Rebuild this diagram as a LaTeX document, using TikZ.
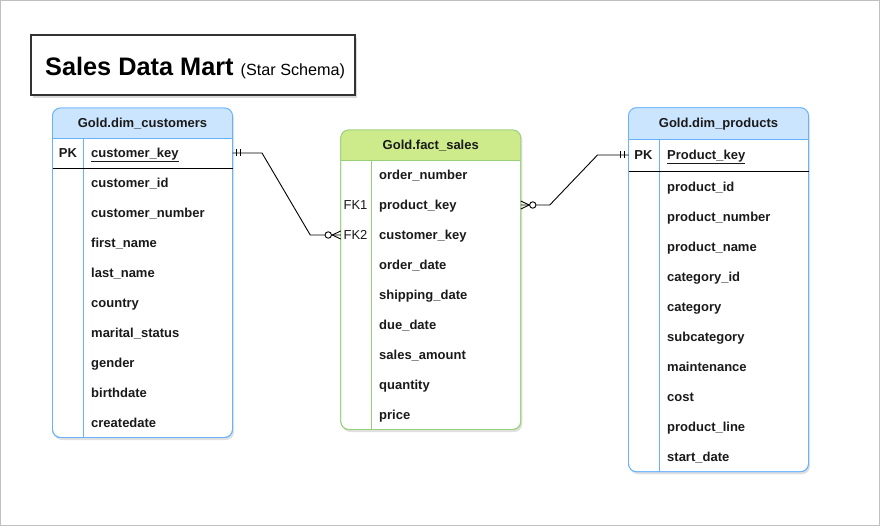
\documentclass[tikz,border=0pt]{standalone}
\usepackage{fontspec}
\setmainfont{Liberation Sans}
\usetikzlibrary{calc,shadows}
\definecolor{bluehdr}{HTML}{CCE5FF}
\definecolor{blueln}{HTML}{66B2FF}
\definecolor{greenhdr}{HTML}{CDEB8B}
\definecolor{greenln}{HTML}{97D077}
\definecolor{txt}{HTML}{1A1A1A}
\begin{document}
\begin{tikzpicture}[x=1pt,y=-1pt,
  field/.style={anchor=west, font=\fontsize{13}{15}\selectfont\bfseries, text=txt, inner sep=0pt, text height=9.5pt, text depth=0.5pt},
  keylbl/.style={anchor=center, font=\fontsize{13}{15}\selectfont\bfseries, text=txt, inner sep=0pt, text height=9.5pt, text depth=0.5pt},
  fklbl/.style={anchor=center, font=\fontsize{13}{15}\selectfont, text=txt, inner sep=0pt, text height=9.5pt, text depth=0.5pt},
  hdrtxt/.style={anchor=center, font=\fontsize{13}{15}\selectfont\bfseries, text=txt, inner sep=0pt, text height=9.5pt, text depth=0.5pt},
  tbl/.style={rounded corners=8pt, fill=white, inner sep=0pt, outer sep=0pt, line width=0.8pt,
    drop shadow={shadow xshift=1.5pt,shadow yshift=-2.5pt,opacity=0.12,fill=black}},
  conn/.style={line width=0.9pt, draw=black},
]
\useasboundingbox (0,0) rectangle (880,526);
\draw[black!25] (0.5,0.5) rectangle (879.5,525.5);

% Title
\node[draw=black!80, line width=2pt, fill=white, minimum width=324pt, minimum height=60pt, inner sep=0pt,
  drop shadow={shadow xshift=1.5pt,shadow yshift=-2.5pt,opacity=0.15,fill=black}] (title) at (193,65.5) {};
\node[anchor=base west, inner sep=0pt, font=\fontsize{25.3}{28}\selectfont\bfseries] (titletxt) at (45,75.5)
  {Sales Data Mart \fontsize{16.2}{18}\selectfont\mdseries(Star Schema)};

% ===== Customers table =====
\node[tbl, draw=blueln, minimum width=180pt, minimum height=329.5pt] (cust) at (142.5,272.75) {};
\begin{scope}
  \clip (52,107) rectangle (233,138);
  \fill[bluehdr, rounded corners=8pt] (52.5,108) rectangle (232.5,170);
\end{scope}
\draw[blueln, line width=0.8pt, rounded corners=8pt] (52.5,108) rectangle (232.5,437.5);
\draw[blueln, line width=0.8pt] (52.5,138) -- (232.5,138);
\draw[blueln, line width=0.8pt] (83,138) -- (83,437.5);
\draw[black, line width=0.8pt] (52.5,168) -- (232.5,168);
\node[hdrtxt] (custh) at (142.5,123) {Gold.dim\_customers};
\node[keylbl] (cpk) at (68,153) {PK};
\node[field] (ckey) at (91,153) {\underline{customer\_key}};
\node[field] (c1) at (91,183) {customer\_id};
\node[field] (c2) at (91,213) {customer\_number};
\node[field] (c3) at (91,243) {first\_name};
\node[field] (c4) at (91,273) {last\_name};
\node[field] (c5) at (91,303) {country};
\node[field] (c6) at (91,333) {marital\_status};
\node[field] (c7) at (91,363) {gender};
\node[field] (c8) at (91,393) {birthdate};
\node[field] (c9) at (91,423) {createdate};

% ===== Fact table =====
\node[tbl, draw=greenln, minimum width=180pt, minimum height=299.5pt] (fact) at (430.75,279.75) {};
\begin{scope}
  \clip (340,129) rectangle (522,160);
  \fill[greenhdr, rounded corners=8pt] (340.75,130) rectangle (520.75,190);
\end{scope}
\draw[greenln, line width=0.8pt, rounded corners=8pt] (340.75,130) rectangle (520.75,429.5);
\draw[greenln, line width=0.8pt] (340.75,160) -- (520.75,160);
\draw[greenln, line width=0.8pt] (371,160) -- (371,429.5);
\node[hdrtxt] (facth) at (430.75,145) {Gold.fact\_sales};
\node[field] (f1) at (379,175) {order\_number};
\node[fklbl] (fk1) at (355.5,205) {FK1};
\node[field] (f2) at (379,205) {product\_key};
\node[fklbl] (fk2) at (355.5,235) {FK2};
\node[field] (f3) at (379,235) {customer\_key};
\node[field] (f4) at (379,265) {order\_date};
\node[field] (f5) at (379,295) {shipping\_date};
\node[field] (f6) at (379,325) {due\_date};
\node[field] (f7) at (379,355) {sales\_amount};
\node[field] (f8) at (379,385) {quantity};
\node[field] (f9) at (379,415) {price};

% ===== Products table =====
\node[tbl, draw=blueln, minimum width=180pt, minimum height=364pt] (prod) at (718.5,289.75) {};
\begin{scope}
  \clip (628,107) rectangle (810,139);
  \fill[bluehdr, rounded corners=8pt] (628.5,107.75) rectangle (808.5,170);
\end{scope}
\draw[blueln, line width=0.8pt, rounded corners=8pt] (628.5,107.75) rectangle (808.5,471.75);
\draw[blueln, line width=0.8pt] (628.5,139) -- (808.5,139);
\draw[blueln, line width=0.8pt] (659,139) -- (659,471.75);
\draw[black, line width=0.8pt] (628.5,171.5) -- (808.5,171.5);
\node[hdrtxt] (prodh) at (718.5,123) {Gold.dim\_products};
\node[keylbl] (ppk) at (643.5,155) {PK};
\node[field] (pkey) at (667,155) {\underline{Product\_key}};
\node[field] (p1) at (667,187) {product\_id};
\node[field] (p2) at (667,217) {product\_number};
\node[field] (p3) at (667,247) {product\_name};
\node[field] (p4) at (667,277) {category\_id};
\node[field] (p5) at (667,307) {category};
\node[field] (p6) at (667,337) {subcategory};
\node[field] (p7) at (667,367) {maintenance};
\node[field] (p8) at (667,397) {cost};
\node[field] (p9) at (667,427) {product\_line};
\node[field] (p10) at (667,457) {start\_date};

% ===== Connectors =====
\coordinate (cA) at (cust.east |- ckey.west);
\coordinate (fA) at (fact.west |- fk2.center);
\draw[conn] (cA) -- ++(29.5,0) -- ($(fA)+(-30.5,0)$) -- (fA);
\draw[conn] ($(cA)+(4,-3.5)$) -- ++(0,7);
\draw[conn] ($(cA)+(7.5,-3.5)$) -- ++(0,7);
\draw[conn] ($(fA)+(-8.5,0)$) -- ($(fA)+(0,-4)$);
\draw[conn] ($(fA)+(-8.5,0)$) -- ($(fA)+(0,4)$);
\draw[conn, fill=white] ($(fA)+(-12.5,0)$) circle (3.2);

\coordinate (fB) at (fact.east |- fk1.center);
\coordinate (pB) at (prod.west |- pkey.west);
\draw[conn] (fB) -- ++(29,0) -- ($(pB)+(-31,0)$) -- (pB);
\draw[conn] ($(fB)+(0,-4)$) -- ($(fB)+(8.5,0)$);
\draw[conn] ($(fB)+(0,4)$) -- ($(fB)+(8.5,0)$);
\draw[conn, fill=white] ($(fB)+(12,0)$) circle (3.2);
\draw[conn] ($(pB)+(-8,-3.5)$) -- ++(0,7);
\draw[conn] ($(pB)+(-4.5,-3.5)$) -- ++(0,7);
\end{tikzpicture}
\end{document}
